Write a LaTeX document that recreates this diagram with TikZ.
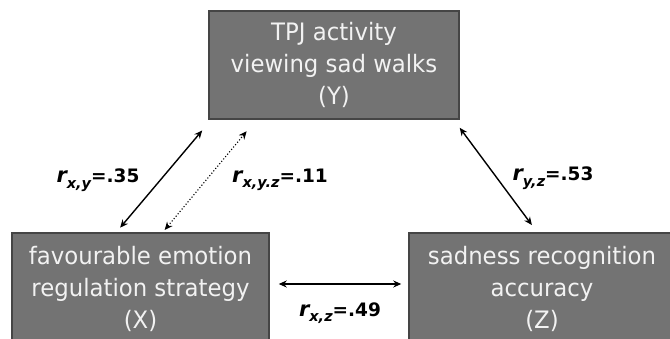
\documentclass[tikz,border=0pt]{standalone}
\usepackage{fontspec}
\setmainfont{DejaVu Sans}
\newfontfamily\boxfont[FakeStretch=0.95]{DejaVu Sans}
\usetikzlibrary{arrows.meta,calc}

\definecolor{boxfill}{HTML}{737373}
\definecolor{boxedge}{HTML}{454545}
\definecolor{boxtext}{HTML}{F2F2F2}

% r with subscript and value
\newcommand{\corrlabel}[2]{{\fontsize{21}{21}\selectfont\itshape r}\raisebox{-5.5pt}{\fontsize{14.5}{14.5}\selectfont\itshape #1}=#2}

\begin{document}
\begin{tikzpicture}[x=1pt,y=1pt,
	varbox/.style={shape=rectangle,draw=boxedge,fill=boxfill,line width=1.5pt,text=boxtext,align=center,inner sep=0pt,font=\boxfont\fontsize{24}{32}\selectfont},
	corr/.style={{Stealth[length=8pt,width=7pt]}-{Stealth[length=8pt,width=7pt]},line width=1.4pt,black},
	coeff/.style={font=\bfseries\fontsize{18.5}{20}\selectfont,inner sep=0pt}]
	
	\useasboundingbox (0,0) rectangle (670,-338);
	
	\node[varbox,minimum width=250pt,minimum height=108pt] (Y) at (334,-65)     {TPJ activity\\viewing sad walks\\(Y)};
	\node[varbox,minimum width=257pt,minimum height=112pt] (X) at (140.5,-289)  {favourable emotion\\regulation strategy\\(X)};
	\node[varbox,minimum width=266pt,minimum height=112pt] (Z) at (542,-289)    {sadness recognition\\accuracy\\(Z)};
	
	\node[coeff] (rxy) at (98,-180)   {\corrlabel{x,y}{.35}};
	\node[coeff] (rxyz) at (280,-180) {\corrlabel{x,y.z}{.11}};
	\node[coeff] (ryz) at (553,-178)  {\corrlabel{y,z}{.53}};
	\node[coeff] (rxz) at (340,-313)  {\corrlabel{x,z}{.49}};
	
	\draw[corr, shorten <=6pt, shorten >=14pt] ([xshift=105pt]X.north west) -- ([xshift=3pt]Y.south west);
	\draw[corr, line width=1.1pt, dotted, shorten <=3pt, shorten >=15pt] ([xshift=151.5pt]X.north west) -- ([xshift=48pt]Y.south west);
	\draw[corr, shorten <=10pt, shorten >=9pt] ([xshift=-6pt]Y.south east) -- ([xshift=129pt]Z.north west);
	\draw[corr, shorten <=9pt, shorten >=7pt] ([yshift=5pt]X.east) -- ([yshift=5pt]Z.west);
	
\end{tikzpicture}
\end{document}
